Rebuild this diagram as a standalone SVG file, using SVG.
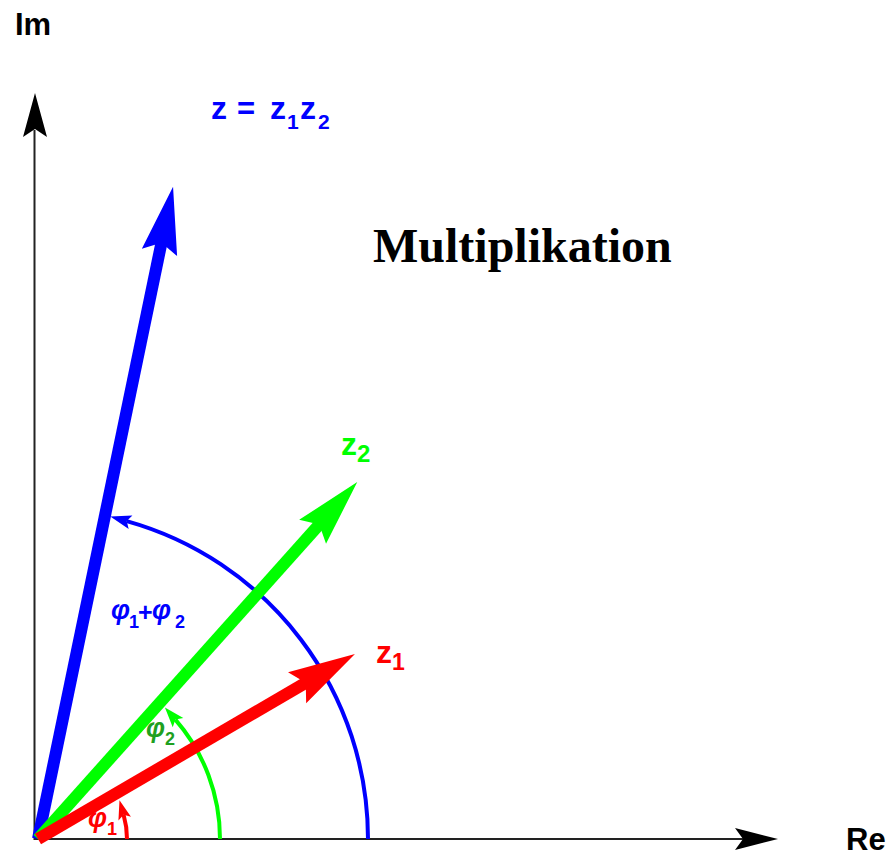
<svg xmlns="http://www.w3.org/2000/svg" width="893" height="855" viewBox="0 0 893 855">
<style>
.ax{stroke:#222;stroke-width:2;fill:none}
.lbl{font-family:"Liberation Sans",Arial,sans-serif;font-weight:bold}
.it{font-style:italic}
.arc{fill:none;stroke-width:4}
</style>
<defs>
<marker id="mb" markerUnits="userSpaceOnUse" orient="auto" overflow="visible" markerWidth="1" markerHeight="1" refX="0" refY="0"><path d="M17,0 L-4,-7 L0,0 L-4,7 Z" fill="#0000ff"/></marker>
<marker id="mg" markerUnits="userSpaceOnUse" orient="auto" overflow="visible" markerWidth="1" markerHeight="1" refX="0" refY="0"><path d="M16,0 L-4,-7 L0,0 L-4,7 Z" fill="#00ff00"/></marker>
<marker id="mr" markerUnits="userSpaceOnUse" orient="auto" overflow="visible" markerWidth="1" markerHeight="1" refX="0" refY="0"><path d="M15,0 L-4,-6.5 L0,0 L-4,6.5 Z" fill="#ff0000"/></marker>
</defs>
<g id="axes">
<path class="ax" d="M34.5,130 L34.5,839 L745,839"/>
<polygon points="35,93 47,137 35,129 23,137" fill="#000"/>
<polygon points="778,839 735,828 743,839 735,850" fill="#000"/>
</g>
<g id="connectors">
<path class="arc" stroke="#0000ff" d="M368,839 A330,330 0 0 0 126.7,521.1" marker-end="url(#mb)"/>
<path class="arc" stroke="#00ff00" d="M220,839 A182,182 0 0 0 175.4,719.6" marker-end="url(#mg)"/>
<path class="arc" stroke="#ff0000" d="M127,839 A89,89 0 0 0 123.6,814.8" marker-end="url(#mr)"/>
</g>
<g id="z" transform="translate(38,839) rotate(-78.3)">
<line x1="0" y1="0" x2="612" y2="0" stroke="#0000ff" stroke-width="12"/>
<polygon points="666,0 599,-18 609,0 599,18" fill="#0000ff"/>
</g>
<g id="z2" transform="translate(38,839) rotate(-48.2)">
<line x1="0" y1="0" x2="425" y2="0" stroke="#00ff00" stroke-width="12"/>
<polygon points="479,0 412,-18 422,0 412,18" fill="#00ff00"/>
</g>
<g id="z1" transform="translate(38,839) rotate(-30.27)">
<line x1="0" y1="0" x2="313" y2="0" stroke="#ff0000" stroke-width="12"/>
<polygon points="367,0 300,-18 310,0 300,18" fill="#ff0000"/>
</g>
<g id="labels" class="lbl">
<text x="15" y="35" font-size="31" fill="#000">Im</text>
<text x="846" y="850" font-size="31" fill="#000">Re</text>
<text x="373" y="262" font-size="48" fill="#000" style="font-family:'Liberation Serif','Times New Roman',serif;font-weight:bold">Multiplikation</text>
<text x="211" y="119" font-size="32" fill="#0000ff">z</text>
<text x="237" y="119" font-size="31" fill="#0000ff">=</text>
<text x="270" y="119" font-size="32" fill="#0000ff">z</text>
<text x="287" y="129" font-size="21" fill="#0000ff">1</text>
<text x="300" y="119" font-size="32" fill="#0000ff">z</text>
<text x="318" y="129" font-size="21" fill="#0000ff">2</text>
<text x="341" y="455" font-size="32" fill="#00ff00">z</text>
<text x="357" y="462" font-size="24" fill="#00ff00">2</text>
<text x="376" y="663" font-size="32" fill="#ff0000">z</text>
<text x="392" y="670" font-size="23" fill="#ff0000">1</text>
<text x="111" y="619" font-size="27" fill="#0000ff" class="it">φ</text>
<text x="129" y="628" font-size="18" fill="#0000ff">1</text>
<text x="138" y="621" font-size="25" fill="#0000ff">+</text>
<text x="152" y="619" font-size="27" fill="#0000ff" class="it">φ</text>
<text x="175" y="628" font-size="18" fill="#0000ff">2</text>
<text x="146" y="737" font-size="27" fill="#1fa01f" class="it">φ</text>
<text x="165" y="745" font-size="18" fill="#1fa01f">2</text>
<text x="88" y="827" font-size="27" fill="#ff0000" class="it">φ</text>
<text x="107" y="835" font-size="18" fill="#ff0000">1</text>
</g>
</svg>
